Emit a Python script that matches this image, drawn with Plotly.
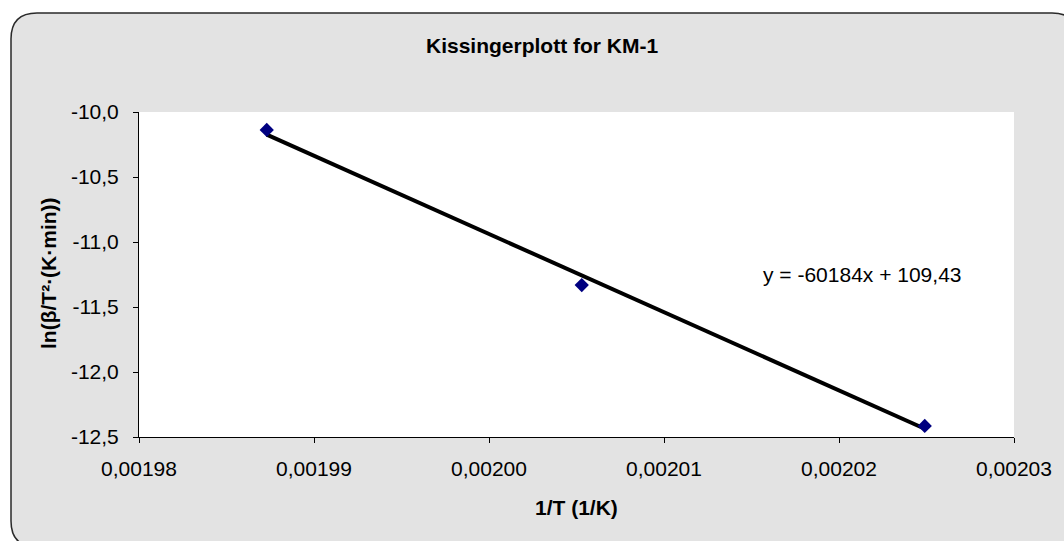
import plotly.graph_objects as go

# Kissinger data: inverse peak temperature vs ln(beta/T^2)
inv_T = [0.0019873, 0.0020053, 0.0020249]
ln_beta_T2 = [-10.138, -11.331, -12.415]

# Linear trend line parameters (as printed in the equation label)
slope = -60184
intercept = 109.43
equation_text = "y = -60184x + 109,43"

x_ticks = [0.00198, 0.00199, 0.00200, 0.00201, 0.00202, 0.00203]
y_ticks = [-10.0, -10.5, -11.0, -11.5, -12.0, -12.5]

W, H = 1064, 541
L, R, T, B = 139, 50, 112, 104
PW, PH = W - L - R, H - T - B
FONT = "Liberation Sans, Arial, sans-serif"
FS = 21


def px(xp):
    return (xp - L) / PW


def py(yp):
    return (H - B - yp) / PH


def comma(v, nd):
    # decimal comma, plain hyphen for negatives
    return f"{v:.{nd}f}".replace(".", ",")


# Rounded frame of the chart area
fl, ft, fr, fb, rad = 11, 13, 1078, 547, 26
frame_path = (
    f"M {px(fl)},{py(ft + rad)} "
    f"Q {px(fl)},{py(ft)} {px(fl + rad)},{py(ft)} "
    f"L {px(fr - rad)},{py(ft)} "
    f"Q {px(fr)},{py(ft)} {px(fr)},{py(ft + rad)} "
    f"L {px(fr)},{py(fb - rad)} "
    f"Q {px(fr)},{py(fb)} {px(fr - rad)},{py(fb)} "
    f"L {px(fl + rad)},{py(fb)} "
    f"Q {px(fl)},{py(fb)} {px(fl)},{py(fb - rad)} Z"
)

trend_x = [inv_T[0], inv_T[-1]]
trend_y = [slope * v + intercept for v in trend_x]

fig = go.Figure()
fig.add_trace(go.Scatter(
    x=trend_x, y=trend_y, mode="lines",
    line=dict(color="black", width=4),
    hoverinfo="skip", showlegend=False,
))
fig.add_trace(go.Scatter(
    x=inv_T, y=ln_beta_T2, mode="markers",
    marker=dict(symbol="diamond", size=11, color="#000080"),
    showlegend=False,
))

fig.update_layout(
    width=W, height=H,
    margin=dict(l=L, r=R, t=T, b=B, pad=0),
    paper_bgcolor="white",
    plot_bgcolor="white",
    font=dict(family=FONT, color="black", size=FS),
    shapes=[
        dict(type="path", path=frame_path, xref="paper", yref="paper",
             fillcolor="#E3E3E3", line=dict(color="#2a2a2a", width=1.5),
             layer="below"),
        dict(type="rect", xref="paper", yref="paper", x0=0, x1=1, y0=0, y1=1,
             fillcolor="white", line=dict(width=0), layer="below"),
    ],
    annotations=[
        dict(text="<b>Kissingerplott for KM-1</b>", xref="paper", yref="paper",
             x=px(542), y=py(45), xanchor="center", yanchor="middle",
             showarrow=False, font=dict(size=FS)),
        dict(text="<b>ln(β/T²·(K·min))</b>", xref="paper", yref="paper",
             x=px(48), y=py(273), xanchor="center", yanchor="middle",
             textangle=-90, showarrow=False, font=dict(size=FS)),
        dict(text="<b>1/T (1/K)</b>", xref="paper", yref="paper",
             x=px(576), y=py(507), xanchor="center", yanchor="middle",
             showarrow=False, font=dict(size=FS)),
        dict(text=equation_text, xref="paper", yref="paper",
             x=px(862), y=py(274), xanchor="center", yanchor="middle",
             showarrow=False, font=dict(size=FS)),
    ],
)

fig.update_xaxes(
    range=[x_ticks[0], x_ticks[-1]], tickvals=x_ticks,
    ticktext=[comma(v, 5) for v in x_ticks],
    showgrid=False, zeroline=False, showline=True, linecolor="black",
    linewidth=1, ticks="outside", ticklen=5, tickcolor="black",
    ticklabelstandoff=8, tickfont=dict(size=FS),
)
fig.update_yaxes(
    range=[y_ticks[-1], y_ticks[0]], tickvals=y_ticks,
    ticktext=[comma(v, 1) for v in y_ticks],
    showgrid=False, zeroline=False, showline=True, linecolor="black",
    linewidth=1, ticks="outside", ticklen=5, tickcolor="black",
    ticklabelstandoff=10, tickfont=dict(size=FS),
)

fig.write_html("out.html")
